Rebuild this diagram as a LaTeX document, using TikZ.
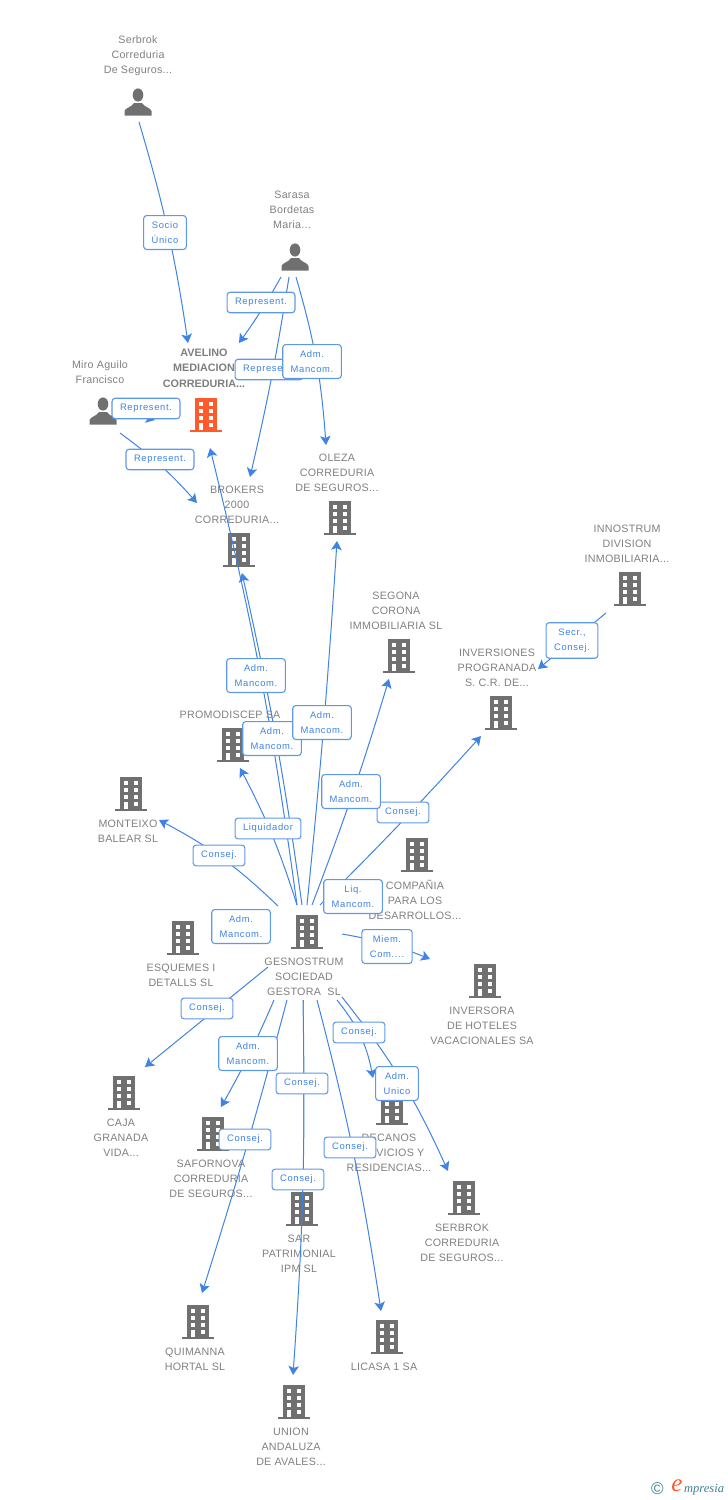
\documentclass[tikz,border=0pt]{standalone}
\usepackage{fontspec}
\setmainfont{Liberation Sans}
\newfontfamily\entfont[LetterSpace=2.5]{Liberation Sans}
\newfontfamily\labfont[LetterSpace=7]{Liberation Sans}
\newfontfamily\logofont{Liberation Serif}
\usetikzlibrary{arrows.meta,backgrounds}
\definecolor{icongrey}{HTML}{707070}
\definecolor{iconorange}{HTML}{FF5A2C}
\definecolor{textgrey}{HTML}{808080}
\definecolor{linkblue}{HTML}{3F83E4}
\definecolor{boxblue}{HTML}{5E98E8}
\definecolor{logoteal}{HTML}{3F7F93}
\pgfdeclarelayer{backg}
\pgfdeclarelayer{edges}
\pgfsetlayers{backg,edges,main}
\tikzset{
  bld/.style={minimum width=32pt,minimum height=34pt,inner sep=0pt,
    path picture={
      \begin{scope}[shift={(path picture bounding box.center)}]
        \fill[#1] (-11,-17) rectangle (11,15);
        \fill[#1] (-16,15) rectangle (16,17);
        \foreach \r in {0,1,2,3} {
          \fill[white] (2.7,-13.5+\r*7) rectangle +(4.6,4.2);
        }
        \foreach \r in {0,1,2} {
          \fill[white] (-7.3,-13.5+\r*7) rectangle +(4.6,4.2);
        }
        \fill[white] (-7.3,7.5) rectangle (-2.7,15);
      \end{scope}
    }},
  bld/.default=icongrey,
  prs/.style={minimum width=28pt,minimum height=28pt,inner sep=0pt,
    path picture={
      \begin{scope}[shift={(path picture bounding box.center)}]
        \fill[icongrey] (0,-7) ellipse (5.3 and 6.6);
        \fill[icongrey] (-13.5,13.5) -- (-13.5,9) .. controls (-13,6) and (-6,5) .. (-4,1)
          -- (4,1) .. controls (6,5) and (13,6) .. (13.5,9) -- (13.5,13.5) -- cycle;
      \end{scope}
    }},
  ent/.style={align=center,inner sep=0pt,yshift=-0.7pt,text=textgrey,font=\entfont\fontsize{10.7}{15}\selectfont},
  lab/.style={draw=boxblue,line width=1.1pt,rounded corners=3pt,fill=white,align=center,yshift=-0.5pt,
    text=linkblue,inner xsep=8pt,inner ysep=6pt,font=\labfont\fontsize{9.4}{15}\selectfont},
  link/.style={draw=linkblue,line width=1pt,-{Stealth[length=9pt,width=10.5pt,inset=2pt]}},
}

\begin{document}
\begin{tikzpicture}[x=1pt,y=-1pt]
  \useasboundingbox (0,0) rectangle (728,1500);
  \begin{pgfonlayer}{backg}
    % people and companies
    \foreach \nm/\x/\y in {serbrokp/138/102,sarasa/295/257,miro/103/411} {
      \node[prs] (\nm) at (\x,\y) {};
    }
    \node[bld=iconorange] (avelino) at (206,415) {};
    \foreach \nm/\x/\y in {brokers/239/550,oleza/340/518,segona/399/656,innostrum/630/589,
      inversiones/501/713,promodiscep/233/745,monteixo/131/794,compania/417/855,
      gesnos/307/932,esquemes/183/938,inversora/485/981,caja/124/1093,safornova/213/1134,
      decanos/392/1108,sarpat/302/1209,serbroke/464/1198,quimanna/198/1322,licasa/387/1337,
      union/294/1402} {
      \node[bld] (\nm) at (\x,\y) {};
    }
    % their names
    \foreach \nm/\x/\y/\txt in {
      serbrokp/138/55/{Serbrok\\Correduria\\De Seguros...},
      sarasa/292/209/{Sarasa\\Bordetas\\Maria...},
      miro/100/371.5/{Miro Aguilo\\Francisco},
      oleza/337/472/{OLEZA\\CORREDURIA\\DE SEGUROS...},
      brokers/237/504/{BROKERS\\2000\\CORREDURIA...},
      innostrum/627/543/{INNOSTRUM\\DIVISION\\INMOBILIARIA...},
      segona/396/610/{SEGONA\\CORONA\\IMMOBILIARIA SL},
      inversiones/497/667/{INVERSIONES\\PROGRANADA\\S. C.R. DE...},
      promodiscep/230/714/{PROMODISCEP SA},
      monteixo/128/830.5/{MONTEIXO\\BALEAR SL},
      compania/415/899/{COMPAÑIA\\PARA LOS\\DESARROLLOS...},
      gesnos/304/976/{GESNOSTRUM\\SOCIEDAD\\GESTORA\ \ SL},
      esquemes/181/974.5/{ESQUEMES I\\DETALLS SL},
      inversora/482/1025/{INVERSORA\\DE HOTELES\\VACACIONALES SA},
      caja/121/1137/{CAJA\\GRANADA\\VIDA...},
      safornova/211/1178/{SAFORNOVA\\CORREDURIA\\DE SEGUROS...},
      decanos/389/1152/{DECANOS\\SERVICIOS Y\\RESIDENCIAS...},
      serbroke/462/1242/{SERBROK\\CORREDURIA\\DE SEGUROS...},
      sarpat/299/1253/{SAR\\PATRIMONIAL\\IPM SL},
      quimanna/195/1358.5/{QUIMANNA\\HORTAL SL},
      licasa/384/1366/{LICASA 1 SA},
      union/291/1446/{UNION\\ANDALUZA\\DE AVALES...}} {
      \node[ent] (\nm-txt) at (\x,\y) {\txt};
    }
    \node[ent,font=\fontsize{10.8}{15.5}\selectfont\bfseries,text=icongrey!90!white] (avelino-txt) at (204,367.5) {AVELINO\\MEDIACION\\CORREDURIA...};
  \end{pgfonlayer}

  % connectors: from/offset/to/offset/bend
  \begin{pgfonlayer}{edges}
    \foreach \a/\ax/\ay/\b/\bx/\by/\bnd in {
      serbrokp/1/20/avelino/-18/-72/4, sarasa/-14/20/avelino/33/-72/3,
      sarasa/-6/20/brokers/11/-73/2, sarasa/1/20/oleza/-14/-73/6,
      miro/22/1/avelino/-51/5/0, miro/17/22/brokers/-42/-47/6,
      gesnos/-10/-27/avelino/4/33/-3, gesnos/-5/-27/brokers/3/23/-2.3,
      gesnos/0/-27/oleza/-3/23/-1, gesnos/5/-27/segona/-10/23/-2,
      gesnos/13/-27/inversiones/-20/23/-1.5, gesnos/-10/-27/promodiscep/7/23/-5,
      gesnos/-29/-26/monteixo/28/26/-8, gesnos/35/2/inversora/-55/-22/6,
      gesnos/-39/35/caja/21/-26/0, gesnos/-33/68/safornova/8/-27/3,
      gesnos/-20/68/quimanna/4/-29/1.3, gesnos/-4/68/sarpat/1/-31/0,
      gesnos/-4/68/union/-1/-27/2.5, gesnos/10/68/licasa/-6/-26/3,
      gesnos/30/68/decanos/-19/-30/14, gesnos/35/65/serbroke/-16/-27/7,
      innostrum/-24/24/inversiones/37/-44/0} {
      \draw[link] ([shift={(\ax,\ay)}]\a.center) to[bend left=\bnd] ([shift={(\bx,\by)}]\b.center);
    }
  \end{pgfonlayer}

  % role boxes
  \node[lab] (l1) at (165,232) {Socio\\Único};
  \node[lab] (l2) at (261,302) {Represent.};
  \node[lab] (l3) at (269,369) {Represent.};
  \node[lab] (l4) at (312,361) {Adm.\\Mancom.};
  \node[lab] (l5) at (146,408) {Represent.};
  \node[lab] (l6) at (160,459) {Represent.};
  \node[lab] (l7) at (572,640) {Secr.,\\Consej.};
  \node[lab] (l8) at (256,675) {Adm.\\Mancom.};
  \node[lab] (l9) at (272,738) {Adm.\\Mancom.};
  \node[lab] (l10) at (322,722) {Adm.\\Mancom.};
  \node[lab] (l11) at (403,812) {Consej.};
  \node[lab] (l12) at (351,791) {Adm.\\Mancom.};
  \node[lab] (l13) at (268,828) {Liquidador};
  \node[lab] (l14) at (219,855) {Consej.};
  \node[lab] (l15) at (353,896) {Liq.\\Mancom.};
  \node[lab] (l16) at (241,926) {Adm.\\Mancom.};
  \node[lab] (l17) at (387,946) {Miem.\\Com....};
  \node[lab] (l18) at (207,1008) {Consej.};
  \node[lab] (l19) at (359,1032) {Consej.};
  \node[lab] (l20) at (248,1053) {Adm.\\Mancom.};
  \node[lab] (l21) at (302,1083) {Consej.};
  \node[lab] (l22) at (397,1083) {Adm.\\Unico};
  \node[lab] (l23) at (245,1139) {Consej.};
  \node[lab] (l24) at (350,1147) {Consej.};
  \node[lab] (l25) at (298,1179) {Consej.};

  % logo
  \node[inner sep=0pt,text=logoteal,font=\fontsize{17}{17}\selectfont] (copy) at (657.5,1489) {©};
  \node[inner sep=0pt,text=iconorange,font=\logofont\itshape\fontsize{25}{25}\selectfont] (logoe) at (677,1486) {e};
  \node[inner sep=0pt,anchor=west,text=logoteal,font=\logofont\itshape\fontsize{12.5}{15}\selectfont] (logotxt) at (684,1490) {mpresia};
\end{tikzpicture}
\end{document}
